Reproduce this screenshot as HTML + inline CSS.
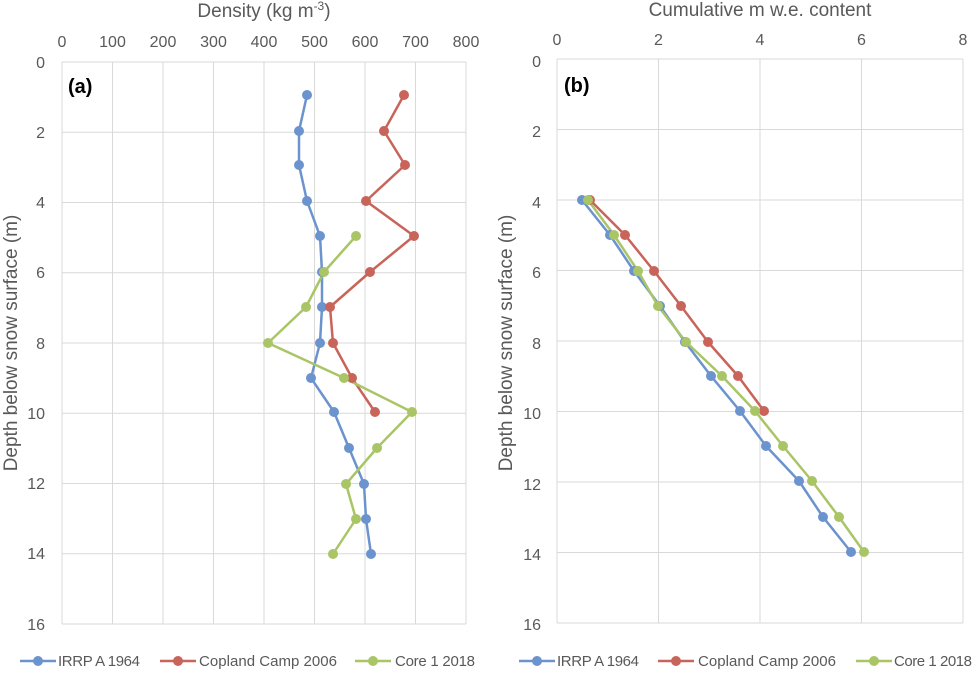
<!DOCTYPE html>
<html><head><meta charset="utf-8"><style>
body{margin:0;background:#fff;}
svg{display:block;font-family:"Liberation Sans",sans-serif;}
.t{fill:#595959;font-size:16px;}
.g{stroke:#d9d9d9;stroke-width:1;fill:none;}
</style></head><body>
<svg width="973" height="674" viewBox="0 0 973 674">
<g class="g">
<line x1="62" y1="62" x2="62" y2="624"/><line x1="112.5" y1="62" x2="112.5" y2="624"/><line x1="163" y1="62" x2="163" y2="624"/><line x1="213.5" y1="62" x2="213.5" y2="624"/><line x1="264" y1="62" x2="264" y2="624"/><line x1="314.5" y1="62" x2="314.5" y2="624"/><line x1="365" y1="62" x2="365" y2="624"/><line x1="415.5" y1="62" x2="415.5" y2="624"/><line x1="466" y1="62" x2="466" y2="624"/>
<line x1="62" y1="62" x2="466" y2="62"/><line x1="62" y1="132.25" x2="466" y2="132.25"/><line x1="62" y1="202.5" x2="466" y2="202.5"/><line x1="62" y1="272.75" x2="466" y2="272.75"/><line x1="62" y1="343" x2="466" y2="343"/><line x1="62" y1="413.25" x2="466" y2="413.25"/><line x1="62" y1="483.5" x2="466" y2="483.5"/><line x1="62" y1="553.75" x2="466" y2="553.75"/><line x1="62" y1="624" x2="466" y2="624"/>
</g>
<g class="t" text-anchor="middle">
<text x="62" y="47">0</text><text x="112.5" y="47">100</text><text x="163" y="47">200</text><text x="213.5" y="47">300</text><text x="264" y="47">400</text><text x="314.5" y="47">500</text><text x="365" y="47">600</text><text x="415.5" y="47">700</text><text x="466" y="47">800</text>
</g>
<g class="t" text-anchor="end">
<text x="45" y="68">0</text><text x="45" y="138">2</text><text x="45" y="208">4</text><text x="45" y="278">6</text><text x="45" y="349">8</text><text x="45" y="419">10</text><text x="45" y="489">12</text><text x="45" y="559">14</text><text x="45" y="630">16</text>
</g>
<text class="t" x="264" y="17" text-anchor="middle" style="font-size:19px">Density (kg m<tspan dy="-7" style="font-size:12px">-3</tspan><tspan dy="7">)</tspan></text>
<text class="t" transform="translate(17,343) rotate(-90)" text-anchor="middle" style="font-size:19px">Depth below snow surface (m)</text>
<text x="68" y="93" font-size="20" font-weight="bold" fill="#000">(a)</text>

<g fill="none" stroke-width="2.5" stroke-linejoin="round">
<polyline stroke="#6b93cd" points="307,95 299,131 299,165 307,201 320,236 322,272 322,307 320,343 311,378 334,412 349,448 364,484 366,519 371,554"/>
<polyline stroke="#c8645a" points="404,95 384,131 405,165 366,201 414,236 370,272 330,307 333,343 352,378 375,412"/>
<polyline stroke="#a9c566" points="356,236 324,272 306,307 268,343 344,378 412,412 377,448 346,484 356,519 333,554"/>
</g>
<g fill="#6b93cd"><circle cx="307" cy="95" r="5"/><circle cx="299" cy="131" r="5"/><circle cx="299" cy="165" r="5"/><circle cx="307" cy="201" r="5"/><circle cx="320" cy="236" r="5"/><circle cx="322" cy="272" r="5"/><circle cx="322" cy="307" r="5"/><circle cx="320" cy="343" r="5"/><circle cx="311" cy="378" r="5"/><circle cx="334" cy="412" r="5"/><circle cx="349" cy="448" r="5"/><circle cx="364" cy="484" r="5"/><circle cx="366" cy="519" r="5"/><circle cx="371" cy="554" r="5"/></g>
<g fill="#c8645a"><circle cx="404" cy="95" r="5"/><circle cx="384" cy="131" r="5"/><circle cx="405" cy="165" r="5"/><circle cx="366" cy="201" r="5"/><circle cx="414" cy="236" r="5"/><circle cx="370" cy="272" r="5"/><circle cx="330" cy="307" r="5"/><circle cx="333" cy="343" r="5"/><circle cx="352" cy="378" r="5"/><circle cx="375" cy="412" r="5"/></g>
<g fill="#a9c566"><circle cx="356" cy="236" r="5"/><circle cx="324" cy="272" r="5"/><circle cx="306" cy="307" r="5"/><circle cx="268" cy="343" r="5"/><circle cx="344" cy="378" r="5"/><circle cx="412" cy="412" r="5"/><circle cx="377" cy="448" r="5"/><circle cx="346" cy="484" r="5"/><circle cx="356" cy="519" r="5"/><circle cx="333" cy="554" r="5"/></g>

<g class="g">
<line x1="557" y1="59" x2="557" y2="623"/><line x1="658.5" y1="59" x2="658.5" y2="623"/><line x1="760" y1="59" x2="760" y2="623"/><line x1="861.5" y1="59" x2="861.5" y2="623"/><line x1="963" y1="59" x2="963" y2="623"/>
<line x1="557" y1="59" x2="963" y2="59"/><line x1="557" y1="129.5" x2="963" y2="129.5"/><line x1="557" y1="200" x2="963" y2="200"/><line x1="557" y1="270.5" x2="963" y2="270.5"/><line x1="557" y1="341" x2="963" y2="341"/><line x1="557" y1="411.5" x2="963" y2="411.5"/><line x1="557" y1="482" x2="963" y2="482"/><line x1="557" y1="552.5" x2="963" y2="552.5"/><line x1="557" y1="623" x2="963" y2="623"/>
</g>
<g class="t" text-anchor="middle">
<text x="557" y="45">0</text><text x="658.5" y="45">2</text><text x="760" y="45">4</text><text x="861.5" y="45">6</text><text x="963" y="45">8</text>
</g>
<g class="t" text-anchor="end">
<text x="541" y="67">0</text><text x="541" y="137">2</text><text x="541" y="208">4</text><text x="541" y="278">6</text><text x="541" y="349">8</text><text x="541" y="419">10</text><text x="541" y="490">12</text><text x="541" y="560">14</text><text x="541" y="630">16</text>
</g>
<text class="t" x="760" y="16" text-anchor="middle" style="font-size:19px">Cumulative m w.e. content</text>
<text class="t" transform="translate(512,343) rotate(-90)" text-anchor="middle" style="font-size:19px">Depth below snow surface (m)</text>
<text x="564" y="92" font-size="20" font-weight="bold" fill="#000">(b)</text>

<g fill="none" stroke-width="2.5" stroke-linejoin="round">
<polyline stroke="#6b93cd" points="582,200 610,235 634,271 660,306 685,342 711,376 740,411 766,446 799,481 823,517 851,552"/>
<polyline stroke="#c8645a" points="590,200 625,235 654,271 681,306 708,342 738,376 764,411"/>
<polyline stroke="#a9c566" points="588,200 614,235 638,271 658,306 686,342 722,376 755,411 783,446 812,481 839,517 864,552"/>
</g>
<g fill="#6b93cd"><circle cx="582" cy="200" r="5"/><circle cx="610" cy="235" r="5"/><circle cx="634" cy="271" r="5"/><circle cx="660" cy="306" r="5"/><circle cx="685" cy="342" r="5"/><circle cx="711" cy="376" r="5"/><circle cx="740" cy="411" r="5"/><circle cx="766" cy="446" r="5"/><circle cx="799" cy="481" r="5"/><circle cx="823" cy="517" r="5"/><circle cx="851" cy="552" r="5"/></g>
<g fill="#c8645a"><circle cx="590" cy="200" r="5"/><circle cx="625" cy="235" r="5"/><circle cx="654" cy="271" r="5"/><circle cx="681" cy="306" r="5"/><circle cx="708" cy="342" r="5"/><circle cx="738" cy="376" r="5"/><circle cx="764" cy="411" r="5"/></g>
<g fill="#a9c566"><circle cx="588" cy="200" r="5"/><circle cx="614" cy="235" r="5"/><circle cx="638" cy="271" r="5"/><circle cx="658" cy="306" r="5"/><circle cx="686" cy="342" r="5"/><circle cx="722" cy="376" r="5"/><circle cx="755" cy="411" r="5"/><circle cx="783" cy="446" r="5"/><circle cx="812" cy="481" r="5"/><circle cx="839" cy="517" r="5"/><circle cx="864" cy="552" r="5"/></g>

<g stroke-width="2.5">
<line x1="20" y1="661" x2="56" y2="661" stroke="#6b93cd"/><circle cx="38" cy="661" r="5" fill="#6b93cd"/>
<line x1="160" y1="661" x2="196" y2="661" stroke="#c8645a"/><circle cx="178" cy="661" r="5" fill="#c8645a"/>
<line x1="355" y1="661" x2="391" y2="661" stroke="#a9c566"/><circle cx="373" cy="661" r="5" fill="#a9c566"/>
<line x1="519" y1="661" x2="555" y2="661" stroke="#6b93cd"/><circle cx="537" cy="661" r="5" fill="#6b93cd"/>
<line x1="658" y1="661" x2="694" y2="661" stroke="#c8645a"/><circle cx="676" cy="661" r="5" fill="#c8645a"/>
<line x1="856" y1="661" x2="892" y2="661" stroke="#a9c566"/><circle cx="874" cy="661" r="5" fill="#a9c566"/>
</g>
<g class="t" style="font-size:15px">
<text x="58" y="666" textLength="82">IRRP A 1964</text><text x="199" y="666" textLength="138">Copland Camp 2006</text><text x="395" y="666" textLength="80">Core 1 2018</text>
<text x="557" y="666" textLength="82">IRRP A 1964</text><text x="698" y="666" textLength="138">Copland Camp 2006</text><text x="894" y="666" textLength="78">Core 1 2018</text>
</g>
</svg>
</body></html>
